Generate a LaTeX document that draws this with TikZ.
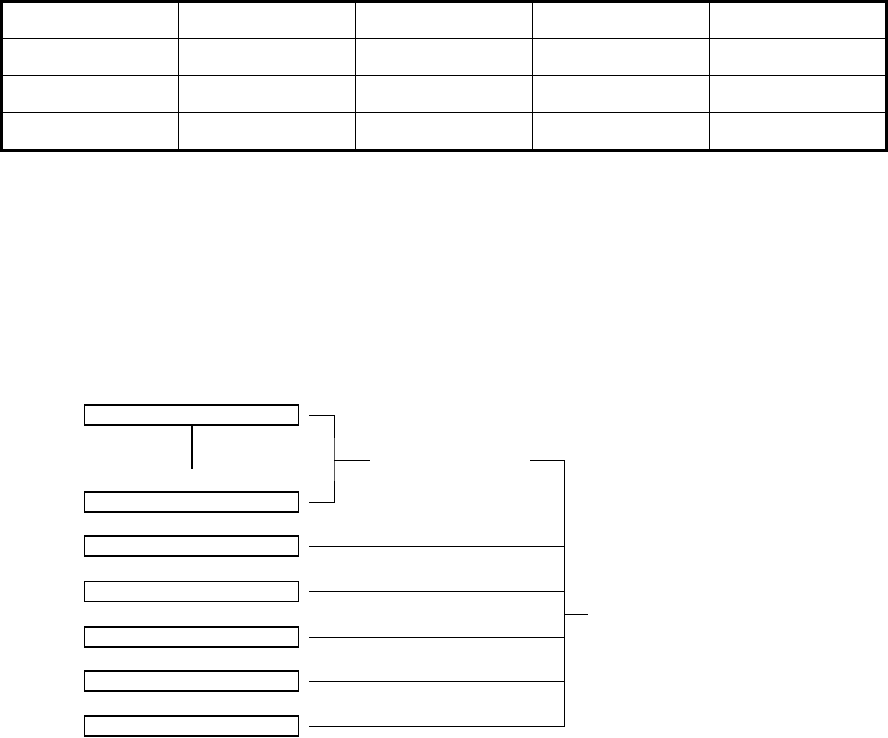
\documentclass[tikz,border=0pt]{standalone}
\begin{document}
\begin{tikzpicture}[x=1pt,y=-1pt,
  box/.style={draw, line width=1.5pt, minimum width=214pt, minimum height=20pt, inner sep=0pt},
  link/.style={line width=0.9pt},
  thin grid/.style={line width=1pt},
  frame/.style={line width=3pt}]
\useasboundingbox (0,0) rectangle (888,738);
% table
\foreach \y in {39,76,113} \draw[thin grid] (0,\y) -- (887,\y);
\foreach \x in {178,355,532,709} \draw[thin grid] (\x,0) -- (\x,151);
\draw[frame] (1.5,1.5) rectangle (886,150.5);
% boxes
\node[box] (b1) at (191.5,415) {};
\node[box] (b2) at (191.5,502) {};
\node[box] (b3) at (191.5,546) {};
\node[box] (b4) at (191.5,591.5) {};
\node[box] (b5) at (191.5,637) {};
\node[box] (b6) at (191.5,681) {};
\node[box] (b7) at (191.5,726) {};
% stem under first box
\coordinate (s1) at (b1.south |- 0,469);
\draw[line width=2pt] (b1.south) -- (s1);
% first bracket
\coordinate (j1) at (334,460);
\coordinate (o1) at (370,460);
\draw[link] ([xshift=10pt]b1.east) -| (j1) |- ([xshift=10pt]b2.east);
\draw[link] (j1) -- (o1);
% second bracket
\coordinate (j2) at (564,614);
\coordinate (t2) at (530,460);
\coordinate (o2) at (588,614);
\draw[link] (t2) -| (b7.east -| j2) -- ([xshift=10pt]b7.east);
\foreach \b in {b3,b4,b5,b6}
  \draw[link] ([xshift=10pt]\b.east) -- (\b.east -| j2);
\draw[link] (j2) -- (o2);
\end{tikzpicture}
\end{document}
